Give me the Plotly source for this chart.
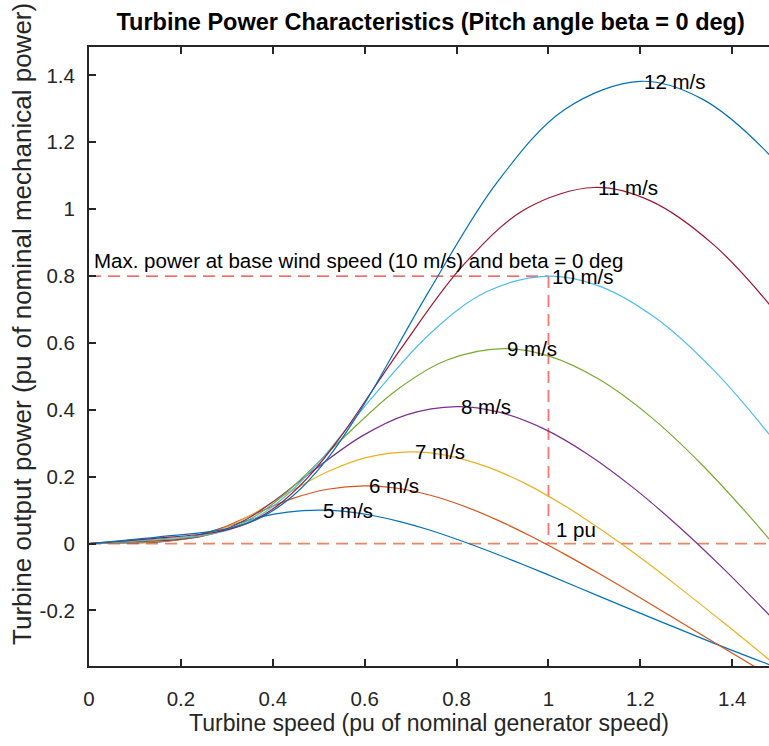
import plotly.graph_objects as go

# ---- data (turbine speed pu, output power pu) ----
wind_labels = ["5 m/s", "6 m/s", "7 m/s", "8 m/s", "9 m/s", "10 m/s", "11 m/s", "12 m/s"]

x_5 = [0, 0.062, 0.123, 0.154, 0.185, 0.216, 0.247, 0.309, 0.370, 0.432, 0.5, 0.556, 0.617, 0.679, 0.741, 0.802, 0.864, 0.926, 0.988, 1.111, 1.235, 1.358, 1.481]
y_5 = [0, 0.0014, 0.0031, 0.0054, 0.0103, 0.0184, 0.0292, 0.0548, 0.0783, 0.0940, 0.1, 0.0963, 0.0841, 0.0651, 0.0407, 0.0123, -0.0190, -0.0523, -0.0869, -0.1577, -0.2282, -0.2967, -0.3621]

x_6 = [0, 0.074, 0.148, 0.185, 0.222, 0.259, 0.296, 0.370, 0.444, 0.519, 0.6, 0.667, 0.741, 0.815, 0.889, 0.963, 1.037, 1.111, 1.185, 1.333, 1.481]
y_6 = [0, 0.0025, 0.0054, 0.0094, 0.0179, 0.0318, 0.0504, 0.0946, 0.1353, 0.1625, 0.1728, 0.1663, 0.1453, 0.1125, 0.0703, 0.0212, -0.0329, -0.0904, -0.1502, -0.2725, -0.3944]

x_7 = [0, 0.086, 0.173, 0.216, 0.259, 0.302, 0.346, 0.432, 0.519, 0.605, 0.7, 0.778, 0.864, 0.951, 1.037, 1.123, 1.210, 1.296, 1.383, 1.556]
y_7 = [0, 0.0039, 0.0086, 0.0149, 0.0284, 0.0504, 0.0801, 0.1503, 0.2148, 0.2580, 0.2744, 0.2641, 0.2308, 0.1787, 0.1117, 0.0337, -0.0522, -0.1436, -0.2384, -0.4326]

x_8 = [0, 0.099, 0.198, 0.247, 0.296, 0.346, 0.395, 0.494, 0.593, 0.691, 0.8, 0.889, 0.988, 1.086, 1.185, 1.284, 1.383, 1.481, 1.580]
y_8 = [0, 0.0058, 0.0128, 0.0223, 0.0423, 0.0753, 0.1196, 0.2243, 0.3206, 0.3851, 0.4096, 0.3942, 0.3445, 0.2667, 0.1667, 0.0504, -0.0779, -0.2144, -0.3559]

x_9 = [0, 0.111, 0.222, 0.278, 0.333, 0.389, 0.444, 0.556, 0.667, 0.778, 0.9, 1.0, 1.111, 1.222, 1.333, 1.444, 1.556]
y_9 = [0, 0.0083, 0.0182, 0.0317, 0.0603, 0.1072, 0.1702, 0.3194, 0.4565, 0.5483, 0.5832, 0.5613, 0.4905, 0.3797, 0.2374, 0.0717, -0.1109]

x_10 = [0, 0.123, 0.247, 0.309, 0.370, 0.432, 0.494, 0.617, 0.741, 0.864, 1.0, 1.111, 1.235, 1.358, 1.481, 1.605]
y_10 = [0, 0.0113, 0.025, 0.0435, 0.0827, 0.147, 0.2335, 0.4382, 0.6262, 0.7522, 0.8, 0.77, 0.6728, 0.5208, 0.3257, 0.0983]

x_11 = [0, 0.136, 0.272, 0.340, 0.407, 0.475, 0.543, 0.679, 0.815, 0.951, 1.1, 1.222, 1.358, 1.494, 1.630]
y_11 = [0, 0.0151, 0.0333, 0.0579, 0.1100, 0.1957, 0.3108, 0.5832, 0.8334, 1.0011, 1.0648, 1.0249, 0.8955, 0.6932, 0.4335]

x_12 = [0, 0.148, 0.296, 0.370, 0.444, 0.519, 0.593, 0.741, 0.889, 1.037, 1.2, 1.333, 1.481, 1.630]
y_12 = [0, 0.0196, 0.0432, 0.0752, 0.1429, 0.2540, 0.4035, 0.7572, 1.0820, 1.2997, 1.3824, 1.3306, 1.1627, 0.9]

peak_speed = [0.5, 0.6, 0.7, 0.8, 0.9, 1.0, 1.1, 1.2]
peak_power = [0.1, 0.1728, 0.2744, 0.4096, 0.5832, 0.8, 1.0648, 1.3824]

base_speed = 1.0
base_power = 0.8

x_ticks = [0, 0.2, 0.4, 0.6, 0.8, 1, 1.2, 1.4]
x_tick_text = ["0", "0.2", "0.4", "0.6", "0.8", "1", "1.2", "1.4"]
y_ticks = [-0.2, 0, 0.2, 0.4, 0.6, 0.8, 1, 1.2, 1.4]
y_tick_text = ["-0.2", "0", "0.2", "0.4", "0.6", "0.8", "1", "1.2", "1.4"]

colors = ["#0072BD", "#D95319", "#EDB120", "#7E2F8E", "#77AC30", "#4DBEEE", "#A2142F", "#0072BD"]

xs = [x_5, x_6, x_7, x_8, x_9, x_10, x_11, x_12]
ys = [y_5, y_6, y_7, y_8, y_9, y_10, y_11, y_12]

FONT = "Liberation Sans, Arial, sans-serif"
TXT = "#000000"
AX = "#262626"

fig = go.Figure()

# dashed reference lines
fig.add_trace(go.Scatter(x=[0, 1.48], y=[0, 0], mode="lines",
                         line=dict(color="#E98560", width=1.8, dash="12px,7px"),
                         hoverinfo="skip", showlegend=False))
fig.add_trace(go.Scatter(x=[0, base_speed], y=[base_power, base_power], mode="lines",
                         line=dict(color="#EE3A3A", width=1.3, dash="12px,7px"),
                         hoverinfo="skip", showlegend=False))
fig.add_trace(go.Scatter(x=[base_speed, base_speed], y=[base_power, 0], mode="lines",
                         line=dict(color="#FF7373", width=1.8, dash="12px,7px"),
                         hoverinfo="skip", showlegend=False))

for xv, yv, c, name in zip(xs, ys, colors, wind_labels):
    fig.add_trace(go.Scatter(x=xv, y=yv, mode="lines", name=name,
                             line=dict(color=c, width=1.2, shape="spline", smoothing=1.0),
                             showlegend=False))

annotations = []
for px_, py_, name in zip(peak_speed, peak_power, wind_labels):
    annotations.append(dict(x=px_, y=py_, xref="x", yref="y", text=name, showarrow=False,
                            xanchor="left", yanchor="middle", xshift=2,
                            font=dict(family=FONT, size=20.5, color=TXT)))
annotations.append(dict(x=0.0, y=0.845, xref="x", yref="y",
                        text="Max. power at base wind speed (10 m/s) and beta = 0 deg",
                        showarrow=False, xanchor="left", yanchor="middle", xshift=3, yshift=1,
                        font=dict(family=FONT, size=20.5, color=TXT)))
annotations.append(dict(x=1.0, y=0.043, xref="x", yref="y", text="1 pu", showarrow=False,
                        xanchor="left", yanchor="middle", xshift=6,
                        font=dict(family=FONT, size=20.5, color=TXT)))
# y-axis title
annotations.append(dict(x=-67 / 680, y=(666 - 324) / 619, xref="paper", yref="paper",
                        text="Turbine output power (pu of nominal mechanical power)",
                        textangle=-90, showarrow=False, xanchor="center", yanchor="middle",
                        font=dict(family=FONT, size=26, color=AX)))

fig.update_layout(
    width=769, height=746,
    margin=dict(l=89, r=0, t=47, b=80),
    paper_bgcolor="white", plot_bgcolor="white",
    title=dict(text="<b>Turbine Power Characteristics (Pitch angle beta = 0 deg)</b>",
               x=0.56, xanchor="center", y=1 - 22 / 746, yanchor="middle", yref="container",
               font=dict(family=FONT, size=23.5, color=TXT)),
    annotations=annotations,
    xaxis=dict(range=[0, 1.48], tickvals=x_ticks, ticktext=x_tick_text,
               showgrid=False, zeroline=False, showline=True, linecolor=AX, linewidth=2,
               mirror="allticks", ticks="inside", ticklen=7, tickwidth=1.5, tickcolor=AX,
               ticklabelstandoff=13,
               tickfont=dict(family=FONT, size=20.5, color=AX),
               title=dict(text="Turbine speed (pu of nominal generator speed)",
                          font=dict(family=FONT, size=23, color=AX), standoff=5)),
    yaxis=dict(range=[-0.366, 1.485], tickvals=y_ticks, ticktext=y_tick_text,
               showgrid=False, zeroline=False, showline=True, linecolor=AX, linewidth=2,
               mirror=False, ticks="inside", ticklen=7, tickwidth=1.5, tickcolor=AX,
               ticklabelstandoff=8,
               tickfont=dict(family=FONT, size=20.5, color=AX)),
)

fig.write_html("out.html")
